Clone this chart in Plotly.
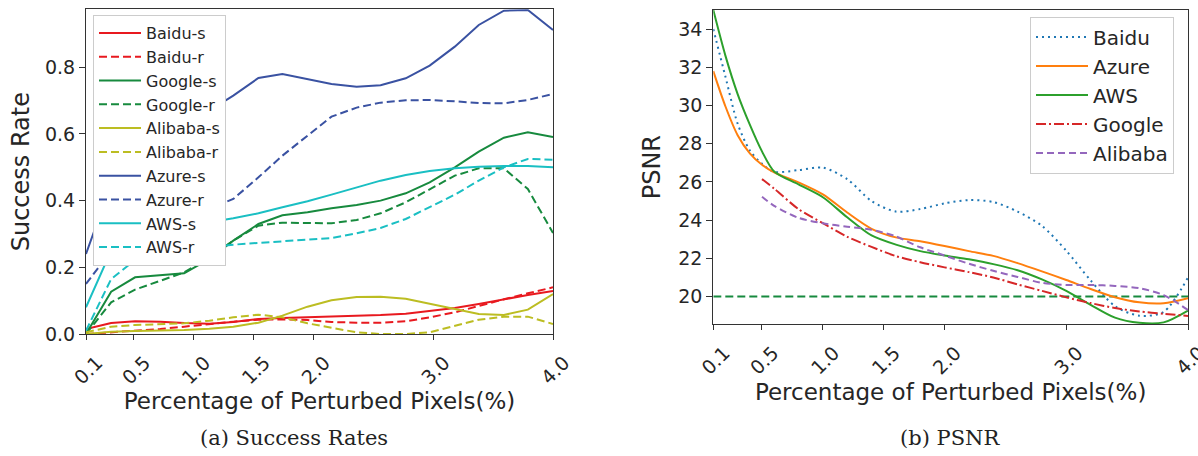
import plotly.graph_objects as go

# ---------------- (a) Success Rates ----------------
x_sr = [0.10, 0.31, 0.51, 0.72, 0.92, 1.13, 1.33, 1.54, 1.74, 1.95,
        2.15, 2.36, 2.56, 2.77, 2.97, 3.18, 3.38, 3.59, 3.79, 4.00]

baidu_s = [0.015, 0.033, 0.038, 0.037, 0.033, 0.031, 0.036, 0.045, 0.048, 0.050,
           0.052, 0.054, 0.057, 0.061, 0.069, 0.078, 0.090, 0.104, 0.117, 0.129]
baidu_r = [0.000, 0.005, 0.010, 0.015, 0.022, 0.030, 0.037, 0.043, 0.044, 0.042,
           0.036, 0.034, 0.034, 0.038, 0.050, 0.065, 0.085, 0.104, 0.122, 0.140]
google_s = [0.000, 0.127, 0.170, 0.175, 0.182, 0.225, 0.280, 0.330, 0.356, 0.365,
            0.377, 0.387, 0.400, 0.422, 0.455, 0.500, 0.547, 0.589, 0.605, 0.591]
google_r = [0.000, 0.095, 0.133, 0.160, 0.185, 0.230, 0.280, 0.325, 0.334, 0.333,
            0.332, 0.342, 0.362, 0.395, 0.435, 0.475, 0.497, 0.497, 0.435, 0.303]
alibaba_s = [0.000, 0.007, 0.009, 0.010, 0.012, 0.016, 0.022, 0.034, 0.055, 0.082,
             0.101, 0.111, 0.112, 0.106, 0.091, 0.075, 0.060, 0.057, 0.073, 0.120]
alibaba_r = [0.005, 0.022, 0.027, 0.030, 0.032, 0.040, 0.050, 0.058, 0.050, 0.032,
             0.018, 0.005, 0.000, 0.000, 0.005, 0.025, 0.043, 0.052, 0.052, 0.030]
azure_s = [0.240, 0.450, 0.550, 0.600, 0.640, 0.670, 0.715, 0.768, 0.780, 0.765,
           0.750, 0.742, 0.746, 0.767, 0.805, 0.862, 0.927, 0.970, 0.972, 0.912]
azure_r = [0.150, 0.250, 0.280, 0.310, 0.345, 0.375, 0.405, 0.470, 0.535, 0.595,
           0.652, 0.679, 0.694, 0.701, 0.702, 0.698, 0.693, 0.692, 0.702, 0.720]
aws_s = [0.080, 0.250, 0.290, 0.310, 0.325, 0.335, 0.347, 0.362, 0.380, 0.398,
         0.418, 0.440, 0.460, 0.477, 0.489, 0.497, 0.502, 0.504, 0.504, 0.500]
aws_r = [0.010, 0.165, 0.222, 0.245, 0.255, 0.260, 0.268, 0.273, 0.278, 0.282,
         0.288, 0.302, 0.318, 0.345, 0.380, 0.418, 0.460, 0.500, 0.525, 0.523]

# ---------------- (b) PSNR ----------------
x_ps = [0.1, 0.2, 0.3, 0.4, 0.5, 0.6, 0.8, 1.0, 1.2, 1.4, 1.6, 1.8,
        2.0, 2.2, 2.4, 2.6, 2.8, 3.0, 3.2, 3.4, 3.6, 3.8, 4.0]
psnr_baidu = [34.0, 31.5, 29.05, 27.65, 26.95, 26.53, 26.62, 26.75, 26.15, 25.0, 24.45, 24.58,
              24.88, 25.05, 24.95, 24.45, 23.7, 22.4, 20.85, 19.5, 19.0, 19.2, 21.0]
psnr_azure = [31.8, 29.95, 28.45, 27.5, 26.9, 26.5, 25.98, 25.35, 24.4, 23.55, 23.1, 22.9,
              22.65, 22.38, 22.13, 21.75, 21.32, 20.87, 20.4, 19.97, 19.7, 19.65, 19.92]
psnr_aws = [35.0, 32.6, 30.6, 29.0, 27.6, 26.55, 25.87, 25.2, 24.15, 23.2, 22.72, 22.38,
            22.15, 21.95, 21.7, 21.38, 20.9, 20.3, 19.57, 18.9, 18.63, 18.65, 19.27]
psnr_google = [None, None, None, None, 26.15, 25.65, 24.58, 23.84, 23.13, 22.6, 22.12, 21.8,
               21.53, 21.28, 21.0, 20.64, 20.3, 19.96, 19.66, 19.4, 19.22, 19.1, 18.99]
psnr_alibaba = [None, None, None, None, 25.23, 24.75, 24.12, 23.84, 23.66, 23.5, 23.15, 22.58,
                22.15, 21.72, 21.35, 21.03, 20.72, 20.61, 20.61, 20.56, 20.44, 20.08, 19.3]
psnr_threshold = 20

tick_vals = [0.1, 0.5, 1.0, 1.5, 2.0, 3.0, 4.0]
tick_text = ["0.1", "0.5", "1.0", "1.5", "2.0", "3.0", "4.0"]

W, H = 1198, 456
FONT = "DejaVu Sans"
TXT = "#262626"
AX = "#333333"

fig = go.Figure()

left_series = [
    ("Baidu-s", baidu_s, "#e8191f", "solid"),
    ("Baidu-r", baidu_r, "#e8191f", "8px,4px"),
    ("Google-s", google_s, "#178a3e", "solid"),
    ("Google-r", google_r, "#178a3e", "8px,4px"),
    ("Alibaba-s", alibaba_s, "#bcbd22", "solid"),
    ("Alibaba-r", alibaba_r, "#bcbd22", "8px,4px"),
    ("Azure-s", azure_s, "#3a52a2", "solid"),
    ("Azure-r", azure_r, "#3a52a2", "8px,4px"),
    ("AWS-s", aws_s, "#1abfc3", "solid"),
    ("AWS-r", aws_r, "#1abfc3", "8px,4px"),
]
for name, ys, col, dash in left_series:
    fig.add_trace(go.Scatter(x=x_sr, y=ys, name=name, mode="lines",
                             line=dict(color=col, width=2, dash=dash),
                             xaxis="x", yaxis="y", legend="legend"))

fig.add_trace(go.Scatter(x=[x_ps[0], x_ps[-1]], y=[psnr_threshold, psnr_threshold],
                         mode="lines", showlegend=False,
                         line=dict(color="#178a3e", width=2, dash="8px,4px"),
                         xaxis="x2", yaxis="y2"))

right_series = [
    ("Baidu", psnr_baidu, "#1f77b4", "2px,4px"),
    ("Azure", psnr_azure, "#ff7f0e", "solid"),
    ("AWS", psnr_aws, "#2ca02c", "solid"),
    ("Google", psnr_google, "#d62728", "10px,3px,2px,3px"),
    ("Alibaba", psnr_alibaba, "#9467bd", "7px,4px"),
]
for name, ys, col, dash in right_series:
    fig.add_trace(go.Scatter(x=x_ps, y=ys, name=name, mode="lines",
                             line=dict(color=col, width=2, dash=dash, shape="spline", smoothing=0.8),
                             xaxis="x2", yaxis="y2", legend="legend2"))

common_x = dict(tickmode="array", tickvals=tick_vals, ticktext=tick_text, tickangle=-45,
                showline=True, linecolor=AX, linewidth=1.2, mirror=True,
                ticks="outside", ticklen=5, tickcolor=AX, tickwidth=1.2,
                showgrid=False, zeroline=False, automargin=False,
                ticklabelshift=11, ticklabelstandoff=4, ticklabeloverflow="allow",
                tickfont=dict(family=FONT, size=19, color=TXT),
                range=[0.1, 4.0])

fig.update_layout(
    width=W, height=H,
    margin=dict(l=0, r=0, t=0, b=0),
    paper_bgcolor="white", plot_bgcolor="white",
    font=dict(family=FONT, color=TXT),
    xaxis=dict(domain=[86 / W, 553 / W], anchor="y",
               title=dict(text="Percentage of Perturbed Pixels(%)",
                          font=dict(family=FONT, size=23, color=TXT), standoff=5),
               **common_x),
    yaxis=dict(domain=[1 - 334 / H, 1 - 9.3 / H], anchor="x", range=[0, 0.974],
               tickvals=[0.0, 0.2, 0.4, 0.6, 0.8], tickformat=".1f",
               showline=True, linecolor=AX, linewidth=1.2, mirror=True,
               ticks="outside", ticklen=6, tickcolor=AX, tickwidth=1.2,
               showgrid=False, zeroline=False, automargin=False,
               tickfont=dict(family=FONT, size=19, color=TXT),
               title=dict(text="Success Rate", font=dict(family=FONT, size=24, color=TXT), standoff=8)),
    xaxis2=dict(domain=[713.3 / W, 1188 / W], anchor="y2",
                title=dict(text="Percentage of Perturbed Pixels(%)",
                           font=dict(family=FONT, size=23, color=TXT), standoff=5),
                **common_x),
    yaxis2=dict(domain=[1 - 324.3 / H, 1 - 10 / H], anchor="x2", range=[18.55, 35.0],
                tickvals=[20, 22, 24, 26, 28, 30, 32, 34],
                showline=True, linecolor=AX, linewidth=1.2, mirror=True,
                ticks="outside", ticklen=6, tickcolor=AX, tickwidth=1.2,
                showgrid=False, zeroline=False, automargin=False,
                tickfont=dict(family=FONT, size=19, color=TXT),
                title=dict(text="PSNR", font=dict(family=FONT, size=24, color=TXT), standoff=10)),
    legend=dict(x=93 / W, y=1 - 15 / H, xanchor="left", yanchor="top",
                bgcolor="white", bordercolor="#cccccc", borderwidth=1, itemwidth=42,
                font=dict(family=FONT, size=16, color=TXT), tracegroupgap=0),
    legend2=dict(x=1030 / W, y=1 - 16.5 / H, xanchor="left", yanchor="top",
                 bgcolor="white", bordercolor="#cccccc", borderwidth=1, itemwidth=52,
                 font=dict(family=FONT, size=20, color=TXT), tracegroupgap=0),
    annotations=[
        dict(text="(a) Success Rates", x=294 / W, y=1 - 438 / H, xref="paper", yref="paper",
             showarrow=False, xanchor="center", yanchor="middle",
             font=dict(family="DejaVu Serif", size=21, color="#222222")),
        dict(text="(b) PSNR", x=950 / W, y=1 - 438 / H, xref="paper", yref="paper",
             showarrow=False, xanchor="center", yanchor="middle",
             font=dict(family="DejaVu Serif", size=21, color="#222222")),
    ],
)

fig.write_html("out.html")
